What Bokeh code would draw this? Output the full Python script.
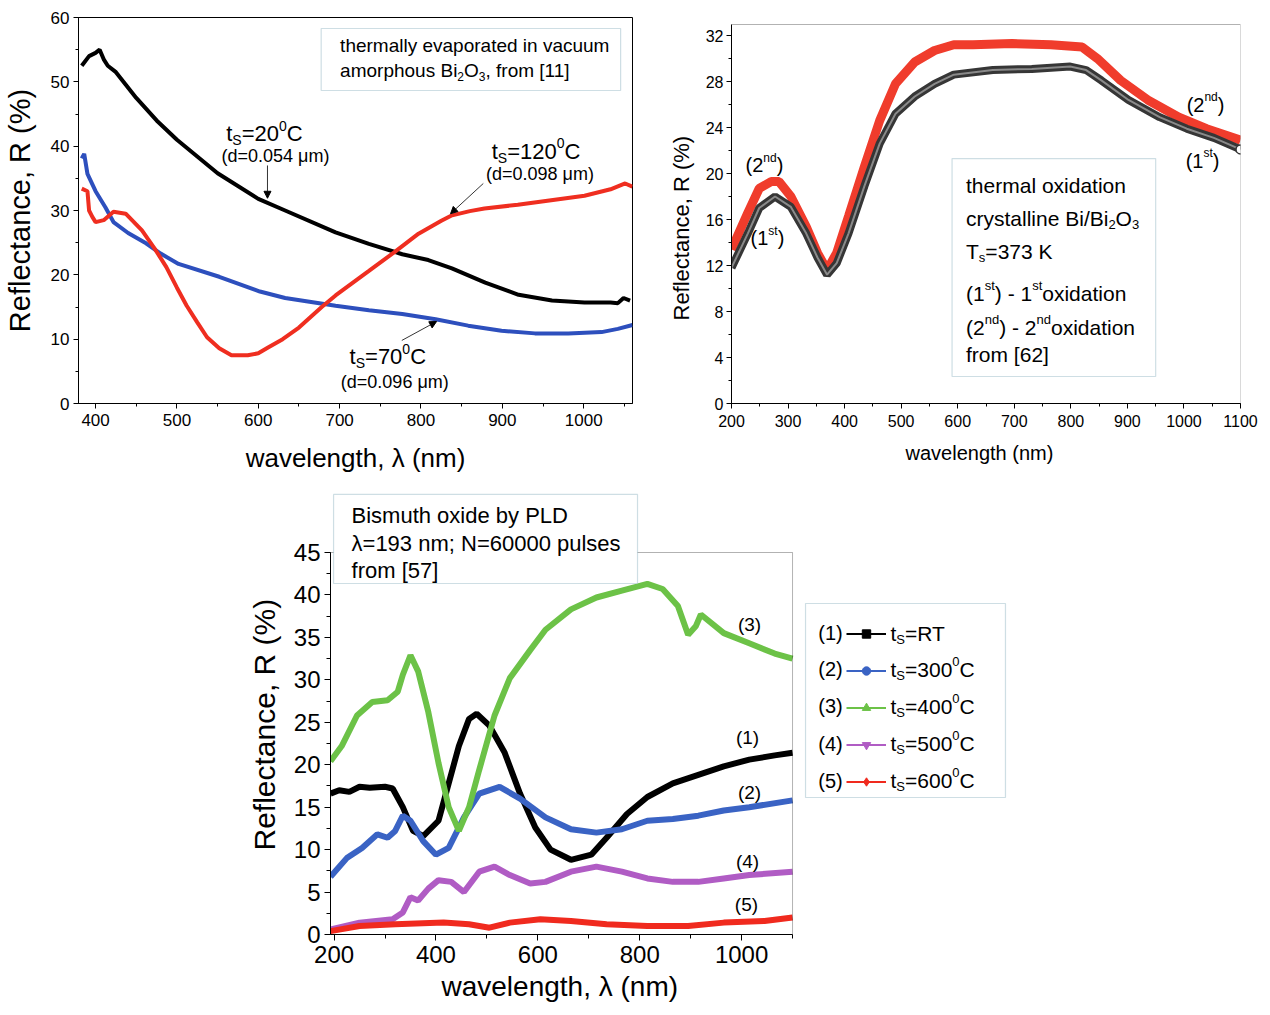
from bokeh.plotting import figure
from bokeh.layouts import column, row
from bokeh.models import (Label, Arrow, NormalHead, BoxAnnotation, Legend, LegendItem, Title,
                          ColumnDataSource, SingleIntervalTicker, Range1d, Spacer)
from bokeh.embed import file_html
from bokeh.resources import INLINE

FONT = "Liberation Sans"
BOXC = "#5d93a4"

# ---------------- Panel A data (thermally evaporated) ----------------
a_black_x = [383, 392, 400, 405, 410, 415, 425, 450, 475, 500, 550, 600, 633, 695, 736, 777, 809, 838, 879, 920, 961, 1001, 1033, 1042, 1049, 1057]
a_black_y = [52.5, 54.0, 54.5, 55.0, 53.5, 52.5, 51.5, 47.5, 44.0, 41.0, 35.8, 31.8, 30.0, 26.6, 24.8, 23.2, 22.3, 21.0, 18.8, 16.9, 16.0, 15.7, 15.7, 15.6, 16.4, 16.0]
a_blue_x = [383, 386, 390, 400, 412, 422, 440, 462, 480, 502, 552, 602, 633, 695, 736, 777, 818, 858, 899, 940, 981, 1022, 1042, 1060]
a_blue_y = [38.1, 38.8, 35.7, 33.0, 30.5, 28.2, 26.5, 24.9, 23.3, 21.7, 19.7, 17.4, 16.4, 15.2, 14.5, 13.9, 13.1, 12.1, 11.3, 10.9, 10.9, 11.1, 11.6, 12.2]
a_red_x = [383, 390, 392, 396, 400, 410, 422, 437, 457, 472, 487, 500, 512, 525, 537, 552, 567, 587, 600, 612, 630, 650, 678, 695, 736, 767, 797, 825, 837, 860, 878, 919, 960, 1001, 1033, 1051, 1060]
a_red_y = [33.4, 33.0, 30.0, 29.0, 28.2, 28.5, 29.8, 29.5, 26.9, 24.2, 21.2, 18.0, 15.2, 12.6, 10.3, 8.6, 7.5, 7.5, 7.8, 8.7, 10.0, 11.8, 15.0, 16.8, 20.6, 23.5, 26.4, 28.4, 29.2, 29.9, 30.3, 30.9, 31.6, 32.3, 33.3, 34.2, 33.7]

# ---------------- Panel B data (thermal oxidation) ----------------
b_first_x = [200, 229, 249, 277, 305, 332, 352, 369, 386, 407, 435, 462, 490, 524, 559, 593, 662, 731, 799, 827, 854, 902, 957, 1005, 1053, 1100]
b_first_y = [11.8, 14.8, 17.0, 18.0, 17.1, 14.8, 12.7, 11.2, 12.2, 14.8, 18.9, 22.6, 25.2, 26.7, 27.8, 28.6, 29.0, 29.1, 29.3, 29.0, 28.1, 26.4, 24.9, 23.9, 23.1, 22.1]
b_second_x = [200, 229, 249, 270, 284, 305, 332, 352, 369, 386, 407, 435, 462, 490, 524, 559, 593, 627, 696, 765, 820, 847, 888, 936, 991, 1040, 1100]
b_second_y = [13.4, 16.6, 18.7, 19.3, 19.3, 18.0, 15.4, 13.1, 11.6, 13.1, 16.3, 20.6, 24.6, 27.8, 29.7, 30.7, 31.2, 31.2, 31.3, 31.2, 31.0, 30.0, 28.1, 26.4, 24.9, 23.9, 22.9]

# ---------------- Panel C data (PLD) ----------------
c1_x = [193, 210, 230, 250, 270, 300, 315, 335, 355, 375, 405, 425, 445, 465, 480, 505, 535, 565, 595, 625, 665, 705, 735, 775, 815, 865, 915, 965, 1015, 1065, 1100]
c1_y = [16.6, 17.0, 16.8, 17.4, 17.3, 17.4, 17.2, 15.0, 12.2, 11.6, 13.4, 17.8, 22.2, 25.4, 26.0, 24.6, 21.4, 16.6, 12.6, 10.0, 8.8, 9.4, 11.4, 14.2, 16.2, 17.8, 18.8, 19.8, 20.6, 21.1, 21.4]
c2_x = [193, 225, 255, 285, 305, 320, 335, 350, 375, 400, 425, 455, 485, 525, 565, 615, 665, 715, 765, 815, 865, 915, 965, 1015, 1100]
c2_y = [6.8, 9.0, 10.2, 11.8, 11.4, 12.2, 14.0, 13.4, 11.0, 9.4, 10.2, 13.8, 16.6, 17.4, 16.0, 13.8, 12.4, 12.0, 12.4, 13.4, 13.6, 14.0, 14.6, 15.0, 15.8]
c3_x = [193, 215, 245, 275, 305, 325, 335, 350, 365, 385, 405, 425, 445, 465, 485, 515, 545, 585, 615, 665, 715, 765, 815, 845, 875, 895, 910, 920, 965, 1015, 1065, 1100]
c3_y = [20.4, 22.2, 25.8, 27.4, 27.6, 28.6, 30.6, 32.9, 31.0, 26.2, 20.2, 15.0, 12.2, 15.0, 19.4, 25.8, 30.2, 33.5, 35.9, 38.3, 39.7, 40.5, 41.3, 40.7, 38.7, 35.3, 36.3, 37.7, 35.5, 34.3, 33.1, 32.5]
c4_x = [193, 250, 315, 335, 350, 365, 385, 405, 430, 455, 485, 515, 545, 585, 615, 665, 715, 765, 815, 865, 915, 965, 1015, 1100]
c4_y = [0.6, 1.4, 1.8, 2.6, 4.4, 4.0, 5.4, 6.4, 6.2, 5.0, 7.4, 8.0, 7.0, 6.0, 6.2, 7.4, 8.0, 7.4, 6.6, 6.2, 6.2, 6.6, 7.0, 7.4]
c5_x = [193, 250, 320, 415, 465, 505, 545, 605, 665, 735, 815, 895, 965, 1045, 1100]
c5_y = [0.4, 1.0, 1.2, 1.4, 1.2, 0.8, 1.4, 1.8, 1.6, 1.2, 1.0, 1.0, 1.4, 1.6, 2.0]
c_temps = ["RT", "300", "400", "500", "600"]

# ---------------- helpers ----------------
AW = {' ': 278, '(': 333, ')': 333, '-': 333, '.': 278, '/': 278, '=': 584, '[': 278, ']': 278,
      'A': 667, 'B': 667, 'C': 722, 'K': 667, 'N': 722, 'O': 778, 'R': 722, 'S': 667, 'T': 611,
      'a': 556, 'b': 556, 'c': 500, 'd': 556, 'e': 556, 'f': 278, 'h': 556, 'i': 222, 'l': 222,
      'm': 833, 'n': 556, 'o': 556, 'p': 556, 'r': 333, 's': 500, 't': 278, 'u': 556, 'v': 500,
      'x': 500, 'y': 500}


def tw(s, size):
    return sum(AW.get(c, 556) for c in s) * size / 1000.0


def rich(p, x, y, parts, size, align="center", font=FONT):
    small = round(size * 0.62)
    widths = []
    for t, m in parts:
        widths.append(tw(t, size if m == "n" else small))
    total = sum(widths)
    off = -total / 2 if align == "center" else 0
    for (t, m), w in zip(parts, widths):
        fs = size if m == "n" else small
        dy = 0 if m == "n" else (-size * 0.30 if m == "sub" else size * 0.36)
        p.add_layout(Label(x=x, y=y, x_offset=off, y_offset=dy, text=t,
                           text_font_size=f"{fs}px", text_align="left",
                           text_baseline="middle", text_font=font, text_color="black"))
        off += w


def lab(p, x, y, text, size, align="center"):
    p.add_layout(Label(x=x, y=y, text=text, text_font_size=f"{size}px", text_align=align,
                       text_baseline="middle", text_font=FONT, text_color="black"))


def style(p, xint, yint, tick_px, xlab_px, ylab_px, xlab, ylab, tick_len, xls, yls, xas, yas):
    p.xaxis.ticker = SingleIntervalTicker(interval=xint, num_minor_ticks=2)
    p.yaxis.ticker = SingleIntervalTicker(interval=yint, num_minor_ticks=2)
    p.xgrid.visible = False
    p.ygrid.visible = False
    p.outline_line_color = "black"
    p.outline_line_alpha = 1
    p.outline_line_width = 1
    for ax in p.axis:
        ax.major_label_text_font = FONT
        ax.major_label_text_font_size = f"{tick_px}px"
        ax.major_label_text_color = "black"
        ax.axis_label_text_font = FONT
        ax.axis_label_text_font_style = "normal"
        ax.axis_label_text_color = "black"
        ax.axis_line_color = "black"
        ax.major_tick_line_color = "black"
        ax.minor_tick_line_color = "black"
        ax.major_tick_in = 0
        ax.major_tick_out = tick_len
        ax.minor_tick_in = 0
        ax.minor_tick_out = tick_len // 2 + 1
    p.xaxis.axis_label_text_font_size = f"{xlab_px}px"
    p.yaxis.axis_label_text_font_size = f"{ylab_px}px"
    p.xaxis.axis_label = xlab
    p.yaxis.axis_label = ylab
    p.xaxis.major_label_standoff = xls
    p.yaxis.major_label_standoff = yls
    p.xaxis.axis_label_standoff = xas
    p.yaxis.axis_label_standoff = yas


def side_title(p, text, side, size, offset, standoff):
    p.add_layout(Title(text=text, align="left", offset=offset, standoff=standoff,
                       vertical_align="middle", text_font=FONT, text_font_size=f"{size}px",
                       text_font_style="normal", text_color="black"), side)


def arrow(p, x0, y0, x1, y1):
    p.add_layout(Arrow(end=NormalHead(size=7, fill_color="black", line_color="black"),
                       x_start=x0, y_start=y0, x_end=x1, y_end=y1, line_width=0.8,
                       line_color="black"))


# ================= Panel A =================
pA = figure(width=660, height=480, x_range=Range1d(379, 1060), y_range=Range1d(0, 60),
            output_backend="svg", toolbar_location=None,
            min_border_left=75, min_border_right=28, min_border_top=17, min_border_bottom=77)
style(pA, 100, 10, 17, 26, 29, "wavelength, λ (nm)", "Reflectance, R (%)", 5, 5, 4, 14, 12)
pA.line(a_black_x, a_black_y, line_width=4, color="black")
pA.line(a_blue_x, a_blue_y, line_width=4, color="#2d4fbd")
pA.line(a_red_x, a_red_y, line_width=4, color="#ef2e20")

pA.add_layout(BoxAnnotation(left=677.3, right=1045.4, top=58.29, bottom=48.65,
                            fill_color="white", fill_alpha=1, line_color=BOXC, line_width=1.2))
lab(pA, 700.6, 55.65, "thermally evaporated in vacuum", 19, "left")
rich(pA, 700.6, 51.76, [("amorphous Bi", "n"), ("2", "sub"), ("O", "n"), ("3", "sub"),
                        (", from [11]", "n")], 19, align="left")

rich(pA, 607.6, 41.97, [("t", "n"), ("S", "sub"), ("=20", "n"), ("0", "sup"), ("C", "n")], 22)
lab(pA, 621.1, 38.4, "(d=0.054 μm)", 18)
arrow(pA, 611.3, 37.0, 611.3, 31.9)

rich(pA, 941.4, 39.2, [("t", "n"), ("S", "sub"), ("=120", "n"), ("0", "sup"), ("C", "n")], 22)
lab(pA, 946.3, 35.75, "(d=0.098 μm)", 18)
arrow(pA, 876.6, 34.2, 836.3, 29.5)

rich(pA, 759.2, 7.3, [("t", "n"), ("S", "sub"), ("=70", "n"), ("0", "sup"), ("C", "n")], 22)
lab(pA, 767.8, 3.4, "(d=0.096 μm)", 18)
arrow(pA, 776.4, 9.8, 819.2, 12.75)

# ================= Panel B =================
B_TOP = 32.96
pB = figure(width=600, height=480, x_range=Range1d(200, 1100), y_range=Range1d(0, 33.57),
            output_backend="svg", toolbar_location=None,
            min_border_left=70, min_border_right=20, min_border_top=17, min_border_bottom=77)
style(pB, 100, 4, 16, 20, 22, None, None, 5, 6, 3, 15, 7)
side_title(pB, "wavelength (nm)", "below", 20, 174, 22)
side_title(pB, "Reflectance, R (%)", "left", 22, 83, 15)
pB.outline_line_color = None
pB.yaxis.bounds = (0, B_TOP)
pB.add_layout(BoxAnnotation(left=200, right=1100, bottom=0, top=B_TOP, fill_alpha=0,
                            line_color="black", line_width=1))
pB.line(b_second_x, b_second_y, line_width=9, color="#f03c2c")
pB.line(b_first_x, b_first_y, line_width=8, color="#363636")
pB.line(b_first_x, b_first_y, line_width=2, color="#8a8a8a")
pB.scatter(b_first_x[-1:], b_first_y[-1:], size=9, fill_color="white", line_color="#333333",
           line_width=1.5)

rich(pB, 258.2, 20.7, [("(2", "n"), ("nd", "sup"), (")", "n")], 20)
rich(pB, 263.5, 14.35, [("(1", "n"), ("st", "sup"), (")", "n")], 20)
rich(pB, 1038.2, 26.0, [("(2", "n"), ("nd", "sup"), (")", "n")], 20)
rich(pB, 1032.9, 21.13, [("(1", "n"), ("st", "sup"), (")", "n")], 20)

pB.add_layout(BoxAnnotation(left=590, right=950, top=21.3, bottom=2.35,
                            fill_color="white", fill_alpha=1, line_color=BOXC, line_width=1.2))
BX = 614.7
lab(pB, BX, 18.96, "thermal oxidation", 21, "left")
rich(pB, BX, 16.09, [("crystalline Bi/Bi", "n"), ("2", "sub"), ("O", "n"), ("3", "sub")], 21, align="left")
rich(pB, BX, 13.22, [("T", "n"), ("s", "sub"), ("=373 K", "n")], 21, align="left")
rich(pB, BX, 9.57, [("(1", "n"), ("st", "sup"), (") - 1", "n"), ("st", "sup"), (" oxidation", "n")], 21, align="left")
rich(pB, BX, 6.61, [("(2", "n"), ("nd", "sup"), (") - 2", "n"), ("nd", "sup"), (" oxidation", "n")], 21, align="left")
lab(pB, BX, 4.26, "from [62]", 21, "left")

# ================= Panel C =================
C_XMAX, C_YMAX = 1100, 45
pC = figure(width=779, height=533, x_range=Range1d(193, 1531.8), y_range=Range1d(0, 52.54),
            output_backend="svg", toolbar_location=None,
            min_border_left=94, min_border_right=3, min_border_top=8, min_border_bottom=79)
style(pC, 200, 5, 24, 28, 30, None, None, 6, 5, 4, 8, 10)
side_title(pC, "wavelength, λ (nm)", "below", 28, 111, 8)
side_title(pC, "Reflectance, R (%)", "left", 30, 84, 18)
pC.outline_line_color = None
pC.xaxis.bounds = (193, C_XMAX)
pC.yaxis.bounds = (0, C_YMAX)
pC.add_layout(BoxAnnotation(left=193, right=C_XMAX, bottom=0, top=C_YMAX, fill_alpha=0,
                            line_color="black", line_width=1))

series = [
    (c1_x, c1_y, "black", "square"),
    (c2_x, c2_y, "#3a63c4", "circle"),
    (c3_x, c3_y, "#6cc247", "triangle"),
    (c4_x, c4_y, "#b05cc4", "inverted_triangle"),
    (c5_x, c5_y, "#f02a1e", "diamond"),
]
items = []
for xs, ys, col, mk in series:
    src = ColumnDataSource(dict(x=xs, y=ys))
    pC.line("x", "y", source=src, line_width=6, color=col)
    pl = pC.line("x", "y", source=src, line_width=2, color=col, visible=False)
    ps = pC.scatter("x", "y", source=src, marker=mk, size=7, color=col, visible=False)
    items.append(LegendItem(label=" ", renderers=[pl, ps]))

# series tags
lab(pC, 1015.5, 36.5, "(3)", 19)
lab(pC, 1011.6, 23.2, "(1)", 19)
lab(pC, 1015.5, 16.7, "(2)", 19)
lab(pC, 1011.6, 8.6, "(4)", 19)
lab(pC, 1009.6, 3.5, "(5)", 19)

# info box
pC.add_layout(BoxAnnotation(left=199, right=795.7, top=51.84, bottom=41.35,
                            fill_color="white", fill_alpha=1, line_color=BOXC, line_width=1.2))
lab(pC, 234.3, 49.36, "Bismuth oxide by PLD", 22, "left")
lab(pC, 234.3, 46.06, "λ=193 nm; N=60000 pulses", 22, "left")
lab(pC, 234.3, 42.88, "from [57]", 22, "left")

# legend box
pC.add_layout(BoxAnnotation(left=1125.5, right=1518, top=38.99, bottom=16.14,
                            fill_color="white", fill_alpha=1, line_color=BOXC, line_width=1.2))
legend = Legend(items=items, location=(516, 142), orientation="vertical",
                border_line_alpha=0, background_fill_alpha=0, padding=0, margin=0,
                spacing=16, glyph_width=40, glyph_height=21, label_height=21,
                label_width=1, label_standoff=0, inactive_fill_alpha=0,
                label_text_font_size="1px")
pC.add_layout(legend)
leg_y = [35.46, 31.22, 26.86, 22.5, 18.14]
for i, (yy, tmp) in enumerate(zip(leg_y, c_temps)):
    lab(pC, 1174.5, yy, f"({i + 1})", 20)
    if tmp == "RT":
        rich(pC, 1292.3, yy, [("t", "n"), ("S", "sub"), ("=RT", "n")], 21, align="left")
    else:
        rich(pC, 1292.3, yy, [("t", "n"), ("S", "sub"), ("=" + tmp, "n"), ("0", "sup"), ("C", "n")], 21, align="left")

layout = column(row(pA, pB), row(Spacer(width=236, height=533), pC))
open("out.html", "w").write(file_html(layout, INLINE))
